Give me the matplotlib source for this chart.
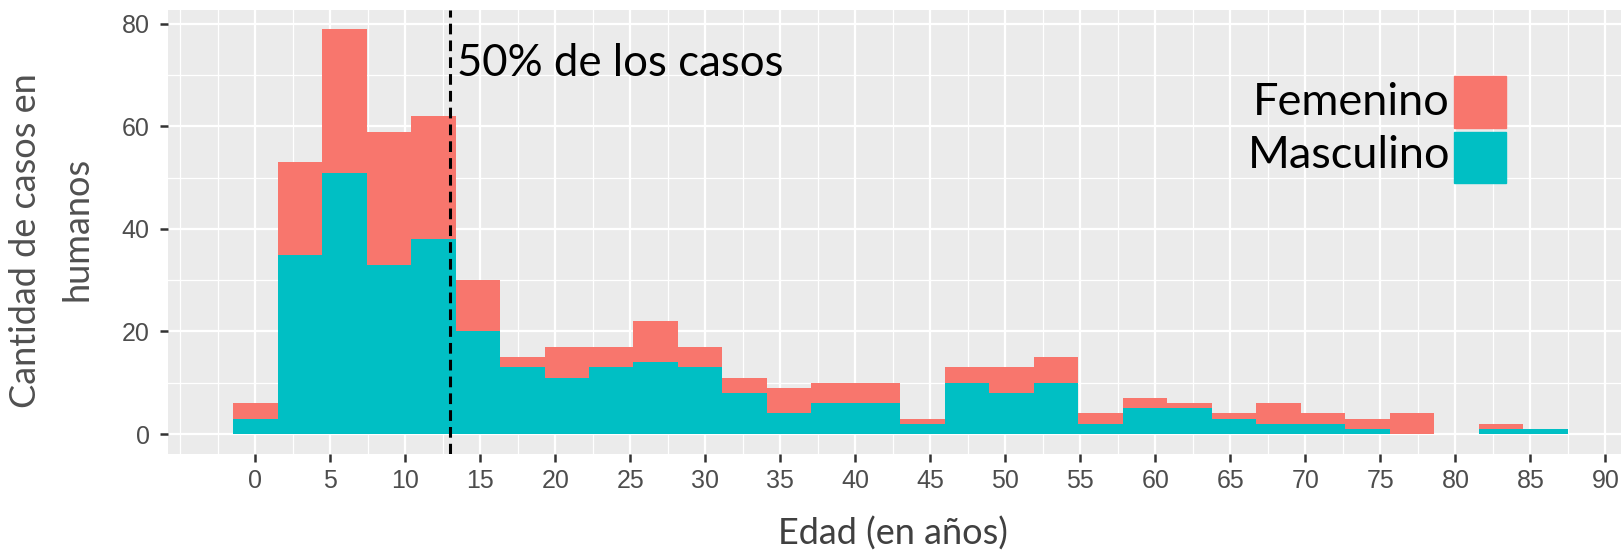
import matplotlib
matplotlib.use("Agg")
import matplotlib.pyplot as plt
from matplotlib.patches import Rectangle
import numpy as np


# ============================================================
# DATA (30 bins, ggplot style histogram, stacked by sex)
# ============================================================

BIN_WIDTH = 86 / 29

masculino = [3, 35, 51, 33, 38, 20, 13, 11, 13, 14,
             13, 8, 4, 6, 6, 2, 10, 8, 10, 2,
             5, 5, 3, 2, 2, 1, 0, 0, 1, 1]

femenino = [3, 18, 28, 26, 24, 10, 2, 6, 4, 8,
            4, 3, 5, 4, 4, 1, 3, 5, 5, 2,
            2, 1, 1, 4, 2, 2, 4, 0, 1, 0]

median_age = 13

legend_labels = ["Femenino", "Masculino"]
x_ticks = list(range(0, 95, 5))
y_ticks = [0, 20, 40, 60, 80]

RED = "#F8766D"
TEAL = "#00BFC4"

# ============================================================
# FIGURE
# ============================================================

W, H = 1621, 552
fig = plt.figure(figsize=(W / 100, H / 100), dpi=100)

left_px, right_px, top_px, bottom_px = 167.9, 1621, 10, 454
ax = fig.add_axes([left_px / W, (H - bottom_px) / H,
                   (right_px - left_px) / W, (bottom_px - top_px) / H])

ax.set_facecolor("#EBEBEB")
for s in ax.spines.values():
    s.set_visible(False)

centers = np.arange(len(masculino)) * BIN_WIDTH

ax.bar(centers, masculino, width=BIN_WIDTH, color=TEAL, linewidth=0, zorder=3)
ax.bar(centers, femenino, width=BIN_WIDTH, bottom=masculino, color=RED,
       linewidth=0, zorder=3)

ax.axvline(median_age, color="black", linestyle=(0, (3.5, 2)), linewidth=2.2,
           zorder=4)

ax.set_xlim(-5.83, 91.04)
ax.set_ylim(-3.9, 82.7)

ax.set_xticks(x_ticks)
ax.set_xticks([v for v in np.arange(-5, 92, 2.5) if v not in x_ticks],
              minor=True)
ax.set_yticks(y_ticks)
ax.set_yticks([10, 30, 50, 70], minor=True)

ax.grid(which="major", color="white", linewidth=1.6, zorder=0)
ax.grid(which="minor", color="white", linewidth=0.9, zorder=0)
ax.set_axisbelow(True)

ax.tick_params(which="major", length=6, width=1.8, color="#333333",
               labelcolor="#4D4D4D", labelsize=18)
ax.tick_params(axis="x", which="major", pad=5)
ax.tick_params(axis="y", which="major", pad=7)
ax.tick_params(which="minor", length=0)
for lab in ax.get_xticklabels() + ax.get_yticklabels():
    lab.set_fontfamily("Liberation Sans")

# ============================================================
# TEXTS
# ============================================================

ax.text((457.3 - 255.4) / 15, (434 - 76) / 5.125, "50% de los casos",
        fontsize=31.5, family="Lato", color="black", va="baseline", ha="left",
        zorder=5)

fig.text(893 / W, (H - 545) / H, "Edad (en años)", fontsize=26,
         family="Lato", color="#404040", ha="center", va="baseline")

fig.text(36 / W, (H - 240.5) / H, "Cantidad de casos en", fontsize=26,
         family="Lato", color="#505050", rotation=90, ha="center",
         va="baseline", rotation_mode="anchor")
fig.text(88 / W, (H - 229) / H, "humanos", fontsize=26,
         family="Lato", color="#505050", rotation=90, ha="center",
         va="baseline", rotation_mode="anchor")

# legend drawn by hand like in the original
baselines = [115, 168.3]
box_tops = [76, 131.7]
colors = [RED, TEAL]
for label, base, top, c in zip(legend_labels, baselines, box_tops, colors):
    fig.text(1450 / W, (H - base) / H, label, fontsize=32.5, family="Lato",
             color="black", ha="right", va="baseline")
    fig.patches.append(Rectangle((1453.7 / W, (H - top - 51.7) / H),
                                 51.8 / W, 51.7 / H, color=c,
                                 transform=fig.transFigure, figure=fig))

fig.savefig("out.png", dpi=100)
